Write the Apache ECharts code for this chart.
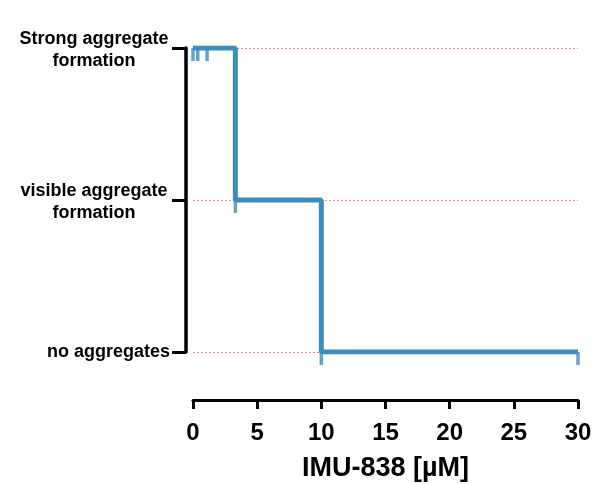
<!DOCTYPE html>
<html>
<head>
<meta charset="utf-8">
<script src="https://cdn.jsdelivr.net/npm/echarts@6/dist/echarts.min.js"></script>
<style>
  html, body { margin: 0; padding: 0; background: #fff; }
  .box { width: 594px; height: 484px; }
</style>
</head>
<body>
<div class="box"></div>
<script>
// aggregation level per concentration (0 = none, 1 = visible, 2 = strong)
var levelNames = ["no aggregates", "visible aggregate\nformation", "Strong aggregate\nformation"];
// step points: concentration [µM] where the level changes
var stepConc = [0, 3.3, 10, 30];
var stepLevel = [2, 1, 0, 0];
// tested concentrations (censor marks)
var markConc = [0, 0.37, 1.1, 3.3, 10, 30];
var markLevel = [2, 2, 2, 1, 0, 0];
var xTicks = [0, 5, 10, 15, 20, 25, 30];

(function () {
    var myChart = echarts.init(document.querySelector(".box"));
    var font = "'Liberation Sans', Arial, sans-serif";
    var blue = "#3d8cbd";

    var lineData = stepConc.map(function (c, i) { return [c, stepLevel[i]]; });
    var markData = markConc.map(function (c, i) { return [c, markLevel[i]]; });

    var option = {
        animation: false,
        grid: { left: 193, right: 16, top: 48, bottom: 132, outerBoundsMode: "none", containLabel: false },
        xAxis: {
            type: "value",
            min: xTicks[0],
            max: xTicks[xTicks.length - 1],
            interval: 5,
            offset: 48,
            name: "IMU-838 [µM]",
            nameLocation: "middle",
            nameGap: 55,
            nameTextStyle: { fontFamily: font, fontWeight: "bold", fontSize: 27, color: "#000" },
            axisLine: { onZero: false, lineStyle: { color: "#000", width: 3 } },
            axisTick: { length: 9, lineStyle: { color: "#000", width: 3 } },
            axisLabel: { margin: 21, fontFamily: font, fontWeight: "bold", fontSize: 24, color: "#000" },
            splitLine: { show: false }
        },
        yAxis: {
            type: "value",
            min: 0,
            max: 2,
            interval: 1,
            offset: 7,
            axisLine: { show: true, onZero: false, lineStyle: { color: "#000", width: 3.5 } },
            axisTick: { show: true, length: 14, lineStyle: { color: "#000", width: 3 } },
            axisLabel: {
                margin: 16,
                align: "right",
                fontFamily: font,
                fontWeight: "bold",
                fontSize: 18,
                color: "#000",
                formatter: function (v) {
                    var parts = levelNames[v].split("\n");
                    if (parts.length === 1) return "{s|" + parts[0] + "}";
                    return parts.map(function (p) { return "{c|" + p + "}"; }).join("\n");
                },
                rich: {
                    c: { width: 152, align: "center", fontFamily: font, fontWeight: "bold", fontSize: 18, lineHeight: 22, color: "#000", padding: [5, 0, 0, 0] },
                    s: { fontFamily: font, fontWeight: "bold", fontSize: 18, color: "#000" }
                }
            },
            splitLine: { show: true, lineStyle: { color: "#d98a8a", width: 1, type: [2, 2] } }
        },
        series: [
            {
                type: "line",
                step: "end",
                data: lineData,
                symbol: "none",
                lineStyle: { color: blue, width: 5 },
                z: 3
            },
            {
                type: "scatter",
                data: markData,
                symbol: "rect",
                symbolSize: [3.5, 13],
                symbolOffset: [0, 6.5],
                itemStyle: { color: blue },
                z: 4
            }
        ]
    };

    myChart.setOption(option);
    window.addEventListener("resize", function () {
        myChart.resize();
    });
})();
</script>
</body>
</html>
